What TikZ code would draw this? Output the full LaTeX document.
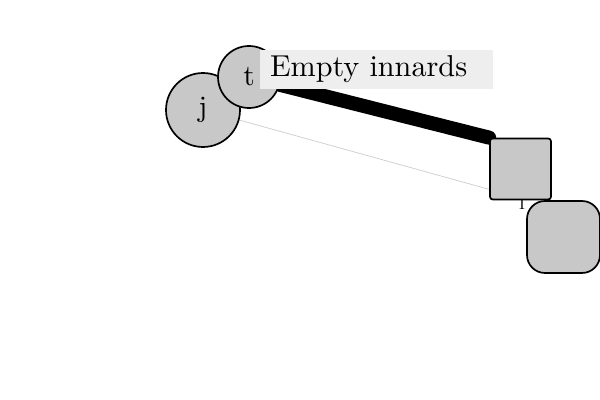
\documentclass[tikz,border=0pt]{standalone}
\usepackage{tikz}
\usetikzlibrary{backgrounds}
\definecolor{nodegray}{HTML}{C8C8C8}
\definecolor{notegray}{HTML}{EEEEEE}

\begin{document}
\begin{tikzpicture}[
  bubble/.style={circle,draw,line width=1.2pt,fill=nodegray,inner sep=0pt},
  box/.style={rectangle,draw,line width=1.2pt,fill=nodegray,inner sep=0pt},
  tick/.style={inner sep=0pt,font=\fontsize{12}{13}\selectfont}]
\useasboundingbox (0,0) rectangle (15,-10);
\node[tick] (ia) at (12.18,-3.42) {I};
\node[tick] (ib) at (13.05,-5.1) {I};
\node[bubble,minimum size=1.85cm] (j) at (5.075,-2.75) {\scalebox{2.1}{j}};
\node[bubble,minimum size=1.55cm] (t) at (6.225,-1.925) {\scalebox{2.1}{t}};
\node[box,minimum size=1.525cm,rounded corners=2pt] (sq) at (13.0125,-4.225) {};
\node[box,minimum width=1.825cm,minimum height=1.8cm,rounded corners=0.45cm] (rr) at (14.0875,-5.925) {};
\node[fill=notegray,minimum width=5.825cm,minimum height=0.975cm,inner sep=0pt,text width=5.825cm] (note) at (9.4125,-1.7375) {\hspace{0.25cm}\scalebox{2.15}{Empty innards}};
\begin{scope}[on background layer]
\draw[black!20,line width=0.5pt] (j) -- (sq.213);
\draw[line width=10pt,line cap=round] (t) -- (sq.north west);
\end{scope}
\end{tikzpicture}
\end{document}
